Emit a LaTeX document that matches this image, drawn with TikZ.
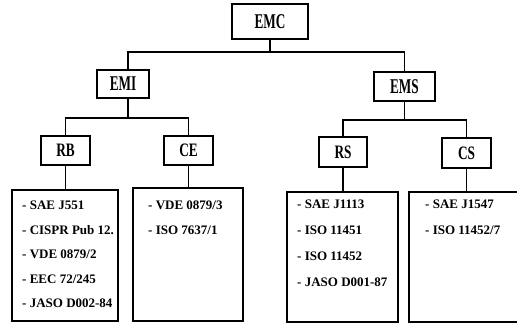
\documentclass[tikz,border=0pt]{standalone}
\usepackage{fontspec}
\setmainfont{Liberation Serif}
\usepackage{graphicx}
\usepackage{tikz}
\tikzset{
  hd/.style={draw,line width=1.1pt,inner sep=0pt,font=\bfseries\fontsize{21}{21}\selectfont},
  sub/.style={draw,line width=1.1pt,inner sep=0pt,font=\bfseries\fontsize{19}{19}\selectfont},
  lst/.style={draw,line width=1.1pt,inner sep=0pt},
  itm/.style={anchor=west,inner sep=0pt,font=\bfseries\fontsize{13}{13}\selectfont},
  ln/.style={line width=1.1pt}
}
\newcommand{\cnd}[2]{\scalebox{#1}[1]{#2}}

\begin{document}
\begin{tikzpicture}[x=1pt,y=-1pt]
\useasboundingbox (0,0) rectangle (517,324);
% top levels
\node[hd,minimum width=76pt,minimum height=35pt] (emc) at (270,21.5) {\cnd{0.63}{EMC}};
\node[hd,minimum width=52pt,minimum height=28pt] (emi) at (123,84) {\cnd{0.63}{EMI}};
\node[hd,minimum width=61pt,minimum height=29pt] (ems) at (404.5,86.5) {\cnd{0.63}{EMS}};
\node[sub,minimum width=49pt,minimum height=29pt] (rb) at (65.5,150.5) {\cnd{0.7}{RB}};
\node[sub,minimum width=49pt,minimum height=29pt] (ce) at (188.5,150.5) {\cnd{0.7}{CE}};
\node[sub,minimum width=48pt,minimum height=30pt] (rs) at (343,152) {\cnd{0.7}{RS}};
\node[sub,minimum width=49pt,minimum height=30pt] (cs) at (466.5,153) {\cnd{0.7}{CS}};
% standard lists
\node[lst,minimum width=106pt,minimum height=131pt] (rbl) at (65,255.5) {};
\node[lst,minimum width=110pt,minimum height=133pt] (cel) at (188,254.5) {};
\node[lst,minimum width=111pt,minimum height=130pt] (rsl) at (342.5,257) {};
\node[lst,minimum width=111pt,minimum height=130pt] (csl) at (464.5,257) {};
\node[itm] (rb1) at (22,205.5) {- SAE J551};
\node[itm] (rb2) at (22,230) {- CISPR Pub 12.};
\node[itm] (rb3) at (22,254.5) {- VDE 0879/2};
\node[itm] (rb4) at (22,279) {- EEC 72/245};
\node[itm] (rb5) at (22,303.5) {- JASO D002-84};
\node[itm] (ce1) at (148,205.5) {- VDE 0879/3};
\node[itm] (ce2) at (148,230) {- ISO 7637/1};
\node[itm] (rs1) at (297,204) {- SAE J1113};
\node[itm] (rs2) at (297,230) {- ISO 11451};
\node[itm] (rs3) at (297,256) {- ISO 11452};
\node[itm] (rs4) at (297,282) {- JASO D001-87};
\node[itm] (cs1) at (425,204) {- SAE J1547};
\node[itm] (cs2) at (425,230) {- ISO 11452/7};
% tree lines
\coordinate (j0) at (270,52);
\coordinate (j1) at (128,118);
\coordinate (j2) at (404.5,120);
\draw[ln] (emc) -- (j0);
\draw[ln] ([xshift=5pt]emi.north) |- (j0) -| (ems);
\draw[ln] ([xshift=5pt]emi.south) -- (j1);
\draw[ln] (rb) |- (j1) -| (ce);
\draw[ln] (ems) -- (j2);
\draw[ln] (rs) |- (j2) -| (cs);
\draw[ln] (rb.south) -- (rb.south |- rbl.north);
\draw[ln] (ce.south) -- (ce.south |- cel.north);
\draw[ln] (rs.south) -- (rs.south |- rsl.north);
\draw[ln] (cs.south) -- (cs.south |- csl.north);
\end{tikzpicture}
\end{document}
